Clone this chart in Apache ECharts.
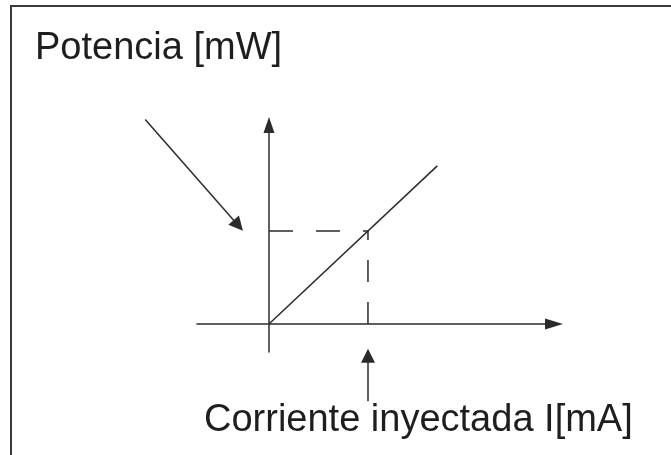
<!DOCTYPE html>
<html>
<head>
<meta charset="utf-8">
<title>Potencia vs corriente</title>
<script src="https://cdn.jsdelivr.net/npm/echarts@6/dist/echarts.min.js"></script>
<style>
html, body { margin: 0; padding: 0; background: #fff; }
#chart { width: 671px; height: 455px; }
</style>
</head>
<body>
<div id="chart"></div>
<script>
// curva P-I en unidades relativas (el punto de trabajo vale 1)
const corriente = [0, 1.7]
const potencia = [0, 1.7]

// punto de trabajo
const corrienteOp = 1
const potenciaOp = 1

// flechas de anotacion [I, P]
const flechaPotencia = [[-1.25, 2.2], [-0.31, 1.06]]
const flechaCorriente = [[1, -0.83], [1, -0.34]]

const rangoI = [-0.727, 2.879]
const rangoP = [-0.301, 2.14]

const ink = '#2b2b2b'
const font = '"Liberation Sans", Arial, sans-serif'

const chart = echarts.init(document.getElementById('chart'), null, { renderer: 'canvas' })

chart.setOption({
    backgroundColor: '#fff',
    animation: false,
    grid: {
        left: 197,
        top: 125,
        width: 357,
        height: 227
    },
    xAxis: {
        type: 'value',
        min: rangoI[0],
        max: rangoI[1],
        axisLine: {
            onZero: true,
            symbol: ['none', 'triangle'],
            symbolSize: [11, 18],
            lineStyle: { color: ink, width: 1.5 }
        },
        axisTick: { show: false },
        axisLabel: { show: false },
        splitLine: { show: false }
    },
    yAxis: {
        type: 'value',
        min: rangoP[0],
        max: rangoP[1],
        axisLine: {
            onZero: true,
            symbol: ['none', 'triangle'],
            symbolSize: [11, 16],
            lineStyle: { color: ink, width: 1.5 }
        },
        axisTick: { show: false },
        axisLabel: { show: false },
        splitLine: { show: false }
    },
    series: [
        {
            name: 'Potencia',
            type: 'line',
            data: corriente.map((c, i) => [c, potencia[i]]),
            showSymbol: false,
            lineStyle: { color: ink, width: 1.5 }
        },
        {
            name: 'nivel P',
            type: 'line',
            data: [[0, potenciaOp], [corrienteOp, potenciaOp]],
            showSymbol: false,
            lineStyle: { color: ink, width: 1.5, type: [24, 23] }
        },
        {
            name: 'nivel I',
            type: 'line',
            data: [[corrienteOp, 0], [corrienteOp, potenciaOp]],
            showSymbol: false,
            lineStyle: { color: ink, width: 1.5, type: [22, 20] }
        },
        {
            name: 'flechas',
            type: 'lines',
            coordinateSystem: 'cartesian2d',
            clip: false,
            symbol: ['none', 'triangle'],
            symbolSize: [10, 14],
            lineStyle: { color: ink, width: 1.5, opacity: 1 },
            data: [
                { coords: flechaPotencia },
                { coords: flechaCorriente }
            ]
        }
    ],
    graphic: [
        {
            type: 'polyline',
            shape: { points: [[11, 455], [11, 6], [671, 6]] },
            style: { stroke: '#3a3a3a', lineWidth: 2, fill: null }
        },
        {
            type: 'text',
            left: 35,
            top: 30,
            style: { text: 'Potencia [mW]', font: '38px ' + font, fill: '#1e1e1e' }
        },
        {
            type: 'text',
            left: 204,
            top: 402,
            style: { text: 'Corriente inyectada I[mA]', font: '38px ' + font, fill: '#1e1e1e' }
        }
    ]
})
</script>
</body>
</html>
